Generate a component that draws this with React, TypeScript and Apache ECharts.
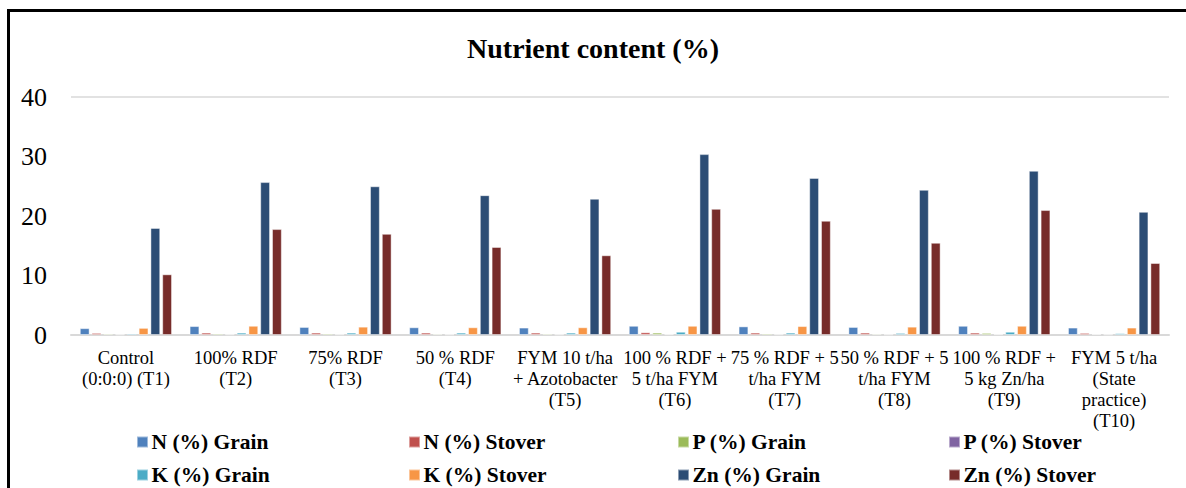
import React, { useEffect, useRef } from "react";
import * as echarts from "echarts";

const categories = [
  "Control\n(0:0:0) (T1)",
  "100% RDF\n(T2)",
  "75% RDF\n(T3)",
  "50 % RDF\n(T4)",
  "FYM 10 t/ha\n+ Azotobacter\n(T5)",
  "100 % RDF +\n5 t/ha FYM\n(T6)",
  "75 % RDF + 5\nt/ha FYM\n(T7)",
  "50 % RDF + 5\nt/ha FYM\n(T8)",
  "100 % RDF +\n5 kg Zn/ha\n(T9)",
  "FYM 5 t/ha\n(State\npractice)\n(T10)",
];

const seriesNames = [
  "N (%) Grain",
  "N (%) Stover",
  "P (%) Grain",
  "P (%) Stover",
  "K (%) Grain",
  "K (%) Stover",
  "Zn (%) Grain",
  "Zn (%) Stover",
];

const nGrain = [1.15, 1.5, 1.35, 1.3, 1.25, 1.55, 1.45, 1.35, 1.55, 1.25];
const nStover = [0.35, 0.4, 0.4, 0.4, 0.4, 0.45, 0.4, 0.4, 0.4, 0.35];
const pGrain = [0.22, 0.25, 0.25, 0.2, 0.22, 0.4, 0.25, 0.2, 0.35, 0.15];
const pStover = [0.1, 0.12, 0.12, 0.1, 0.1, 0.14, 0.12, 0.1, 0.14, 0.1];
const kGrain = [0.25, 0.4, 0.4, 0.4, 0.4, 0.55, 0.4, 0.35, 0.55, 0.3];
const kStover = [1.2, 1.55, 1.4, 1.3, 1.3, 1.55, 1.5, 1.4, 1.55, 1.25];
const znGrain = [18.0, 25.7, 25.0, 23.5, 22.9, 30.4, 26.4, 24.4, 27.6, 20.7];
const znStover = [10.2, 17.8, 17.0, 14.8, 13.4, 21.2, 19.2, 15.5, 21.0, 12.1];

const seriesValues = [nGrain, nStover, pGrain, pStover, kGrain, kStover, znGrain, znStover];
const colors = ["#4F81BD", "#C0504D", "#9BBB59", "#8064A2", "#4BACC6", "#F79646", "#2C4D75", "#772C2A"];

const yTicks = { min: 0, max: 40, interval: 10 };

const FONT = "Liberation Serif";

export default function App() {
  const ref = useRef<HTMLDivElement>(null);
  useEffect(() => {
    if (!ref.current) return;
    const chart = echarts.init(ref.current, undefined, { renderer: "svg" });
    const legendCols = [
      { left: 136, items: [seriesNames[0], seriesNames[4]] },
      { left: 408, items: [seriesNames[1], seriesNames[5]] },
      { left: 677, items: [seriesNames[2], seriesNames[6]] },
      { left: 948, items: [seriesNames[3], seriesNames[7]] },
    ];
    chart.setOption({
      animation: false,
      color: colors,
      textStyle: { fontFamily: FONT },
      title: {
        text: "Nutrient content (%)",
        left: "center",
        top: 29,
        textStyle: { fontFamily: FONT, fontSize: 28, fontWeight: "bold", color: "#000" },
      },
      graphic: [
        { type: "line", shape: { x1: 8.5, y1: 9, x2: 8.5, y2: 488 }, style: { stroke: "#000", lineWidth: 3 } },
        { type: "line", shape: { x1: 7, y1: 10.5, x2: 1186, y2: 10.5 }, style: { stroke: "#000", lineWidth: 3 } },
      ],
      legend: legendCols.map((c) => ({
        data: c.items,
        orient: "vertical",
        left: c.left,
        top: 431,
        itemWidth: 11,
        itemHeight: 11,
        itemGap: 11,
        padding: 0,
        icon: "rect",
        textStyle: { fontFamily: FONT, fontSize: 21.5, fontWeight: "bold", color: "#000", lineHeight: 21, padding: [0, 0, 0, -1.5] },
      })),
      grid: { left: 71, right: 17, top: 97, bottom: 153, containLabel: false },
      xAxis: {
        type: "category",
        data: categories,
        axisLine: { show: true, lineStyle: { color: "#D9D9D9", width: 2 } },
        axisTick: { show: false },
        axisLabel: {
          interval: 0,
          margin: 12.5,
          fontFamily: FONT,
          fontSize: 18.5,
          lineHeight: 21,
          color: "#000",
        },
      },
      yAxis: {
        type: "value",
        min: yTicks.min,
        max: yTicks.max,
        interval: yTicks.interval,
        axisLine: { show: false },
        axisTick: { show: false },
        splitLine: {
          show: true,
          lineStyle: { color: ["rgba(0,0,0,0)", "rgba(0,0,0,0)", "rgba(0,0,0,0)", "rgba(0,0,0,0)", "#D9D9D9"], width: 1.5 },
        },
        axisLabel: { margin: 24, fontFamily: FONT, fontSize: 26, color: "#000" },
      },
      series: seriesNames.map((name, i) => ({
        name,
        type: "bar",
        data: seriesValues[i],
        barCategoryGap: "16%",
        barGap: "20%",
        itemStyle: { color: colors[i], borderColor: "rgba(255,255,255,0.45)", borderWidth: 1 },
      })),
    });
    return () => chart.dispose();
  }, []);
  return (
    <div
      ref={ref}
      style={{ position: "absolute", left: 0, top: 0, width: 1186, height: 488, background: "#fff" }}
    />
  );
}
